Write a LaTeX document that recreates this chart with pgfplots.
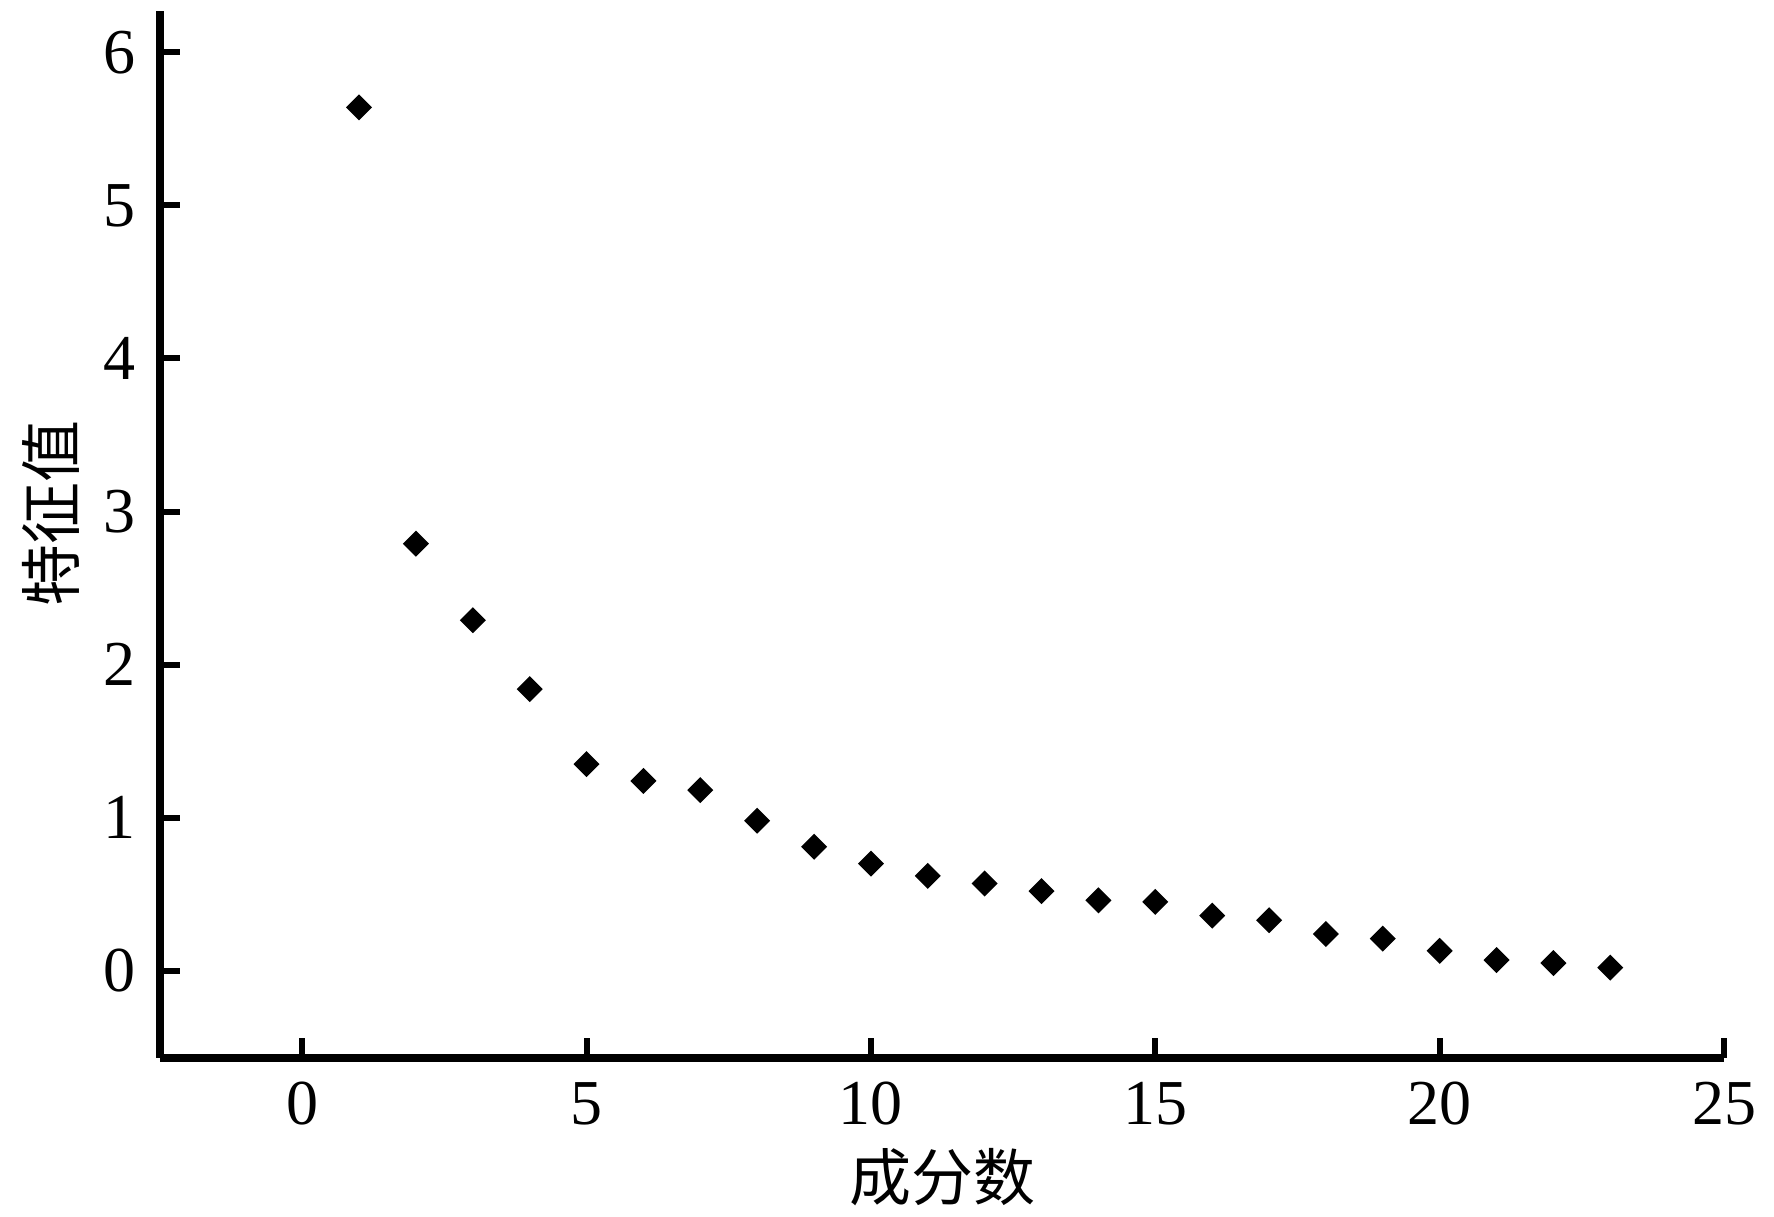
\documentclass[border=0pt]{standalone}
\usepackage{pgfplots}
\pgfplotsset{compat=1.18}
\usepackage{fontspec}
\setmainfont{Liberation Serif}
\newfontfamily\cjk{Noto Sans CJK SC}
\begin{document}
\fontsize{16}{19}\selectfont
\begin{tikzpicture}
\begin{axis}[
  at={(0,0)}, anchor=south west,
  scale only axis,
  width=391pt, height=261.75pt,
  xmin=-2.5, xmax=25,
  ymin=-0.57, ymax=6.27,
  axis x line=bottom, axis y line=left,
  axis line style={-, line width=2pt},
  xtick={0,5,...,25}, ytick={0,1,...,6},
  tick align=inside,
  major tick length=5pt,
  tick style={line width=1.5pt, black},
  /pgf/number format/assume math mode=true,
  ticklabel style={font=\fontsize{16}{19}\selectfont},
  yticklabel style={xshift=-0.5pt},
  xticklabel style={yshift=-0.5pt},
  xlabel={\cjk 成分数},
  ylabel={\cjk 特征值},
  label style={font=\fontsize{15.5}{18}\selectfont},
  xlabel style={at={(axis description cs:0.5,0)}, anchor=center, yshift=-29.75pt},
  ylabel style={at={(axis description cs:0,0.52)}, anchor=center, yshift=27.25pt},
  clip=false,
]
\addplot[only marks, mark=square*, mark size=2.1pt, black, mark options={rotate=45}] coordinates {
(1,5.64) (2,2.79) (3,2.29) (4,1.84) (5,1.35) (6,1.24) (7,1.18) (8,0.98)
(9,0.81) (10,0.70) (11,0.62) (12,0.57) (13,0.52) (14,0.46) (15,0.45)
(16,0.36) (17,0.33) (18,0.24) (19,0.21) (20,0.13) (21,0.07) (22,0.05) (23,0.02)
};
\end{axis}
\pgfresetboundingbox
\path (-40pt,-39.75pt) rectangle (403.5pt,264.5pt);
\end{tikzpicture}
\end{document}
